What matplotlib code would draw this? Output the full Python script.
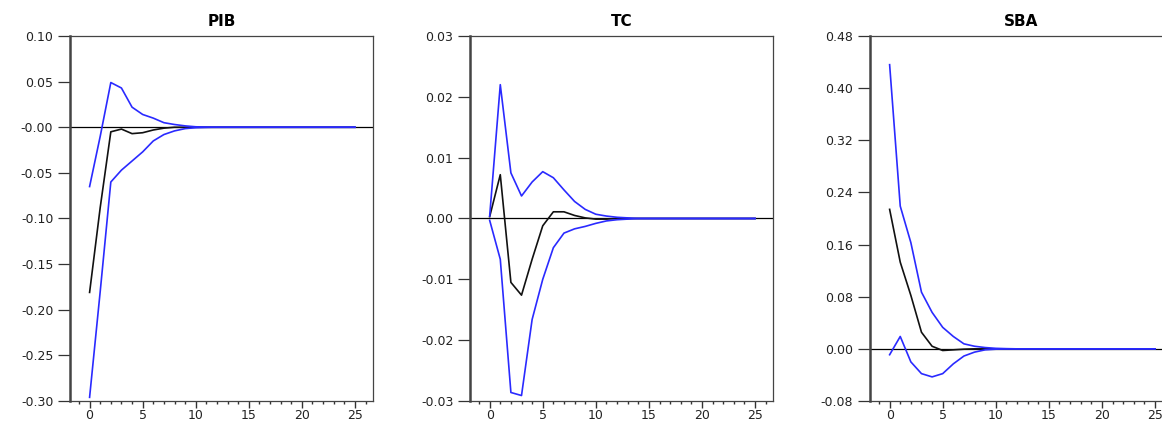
import matplotlib
matplotlib.use('Agg')
import matplotlib.pyplot as plt
from matplotlib.ticker import MultipleLocator, FormatStrFormatter
import numpy as np

plt.rcParams['font.family'] = ['DejaVu Sans']

periods = np.arange(26)

# PIB response and bands
pib_resp = [-0.181, -0.088, -0.005, -0.002, -0.007, -0.006, -0.003, -0.001, 0.0, 0.0,
            0.0, 0.0, 0.0] + [0.0] * 13
pib_upper = [-0.065, -0.010, 0.049, 0.043, 0.022, 0.014, 0.010, 0.005, 0.003, 0.0015,
             0.0005, 0.0002, 0.0] + [0.0] * 13
pib_lower = [-0.296, -0.180, -0.060, -0.047, -0.037, -0.027, -0.015, -0.008, -0.004, -0.0015,
             -0.0005, -0.0002, 0.0] + [0.0] * 13

# TC
tc_resp = [0.0003, 0.0072, -0.0105, -0.0126, -0.0067, -0.0012, 0.0011, 0.0011, 0.0005, 0.0001,
           -0.0001, -0.0001, 0.0] + [0.0] * 13
tc_upper = [0.0004, 0.0220, 0.0075, 0.0037, 0.0060, 0.0077, 0.0067, 0.0047, 0.0028, 0.0015,
            0.0007, 0.0004, 0.0002, 0.0001] + [0.0] * 12
tc_lower = [-0.0003, -0.0067, -0.0286, -0.0291, -0.0166, -0.0100, -0.0048, -0.0024, -0.0017, -0.0013,
            -0.0008, -0.0004, -0.0002, -0.0001] + [0.0] * 12

# SBA
sba_resp = [0.214, 0.133, 0.082, 0.0255, 0.004, -0.0025, -0.0015, -0.0005, 0.0, 0.0,
            0.0] + [0.0] * 15
sba_upper = [0.436, 0.219, 0.163, 0.087, 0.056, 0.033, 0.019, 0.0077, 0.004, 0.002,
             0.0008, 0.0003] + [0.0] * 14
sba_lower = [-0.009, 0.019, -0.020, -0.038, -0.043, -0.038, -0.023, -0.011, -0.005, -0.0015,
             -0.0005, -0.0002] + [0.0] * 14

titles = ['PIB', 'TC', 'SBA']
responses = [pib_resp, tc_resp, sba_resp]
uppers = [pib_upper, tc_upper, sba_upper]
lowers = [pib_lower, tc_lower, sba_lower]
ylims = [(-0.30, 0.10), (-0.03, 0.03), (-0.08, 0.48)]
ysteps = [0.05, 0.01, 0.08]
lefts = [0.0602, 0.4045, 0.7487]

fig = plt.figure(figsize=(11.62, 4.21), dpi=100)
blue = '#2a2aff'

for i in range(3):
    ax = fig.add_axes([lefts[i], 0.0475, 0.2608, 0.867])
    ax.axhline(0, color='black', lw=0.9, zorder=1)
    ax.plot(periods, responses[i], color='#111111', lw=1.2, zorder=2)
    ax.plot(periods, uppers[i], color=blue, lw=1.2, zorder=3)
    ax.plot(periods, lowers[i], color=blue, lw=1.2, zorder=3)

    ax.set_xlim(-1.85, 26.7)
    ax.set_ylim(*ylims[i])
    ax.xaxis.set_major_locator(MultipleLocator(5))
    ax.xaxis.set_minor_locator(MultipleLocator(1))
    ax.yaxis.set_major_locator(MultipleLocator(ysteps[i]))
    ax.yaxis.set_major_formatter(FormatStrFormatter('%.2f'))
    if i == 0:
        ax.set_yticks(np.arange(-0.30, 0.101, 0.05))
        ax.set_yticklabels(['-0.30', '-0.25', '-0.20', '-0.15', '-0.10', '-0.05', '-0.00', '0.05', '0.10'])

    ax.tick_params(axis='y', direction='out', length=9, width=0.9, pad=3,
                   labelsize=9, colors='#333333', labelcolor='#222222')
    ax.tick_params(axis='x', which='major', direction='out', length=5, width=1.0, pad=1,
                   labelsize=9, colors='#333333', labelcolor='#222222')
    ax.tick_params(axis='x', which='minor', direction='out', length=2.5, width=1.0, colors='#333333')

    for side in ['top', 'right', 'bottom']:
        ax.spines[side].set_linewidth(0.9)
        ax.spines[side].set_color('#444444')
    ax.spines['left'].set_linewidth(1.8)
    ax.spines['left'].set_color('#444444')

    ax.set_title(titles[i], fontsize=11, fontweight='bold', pad=7)

fig.savefig('out.png', dpi=100)
